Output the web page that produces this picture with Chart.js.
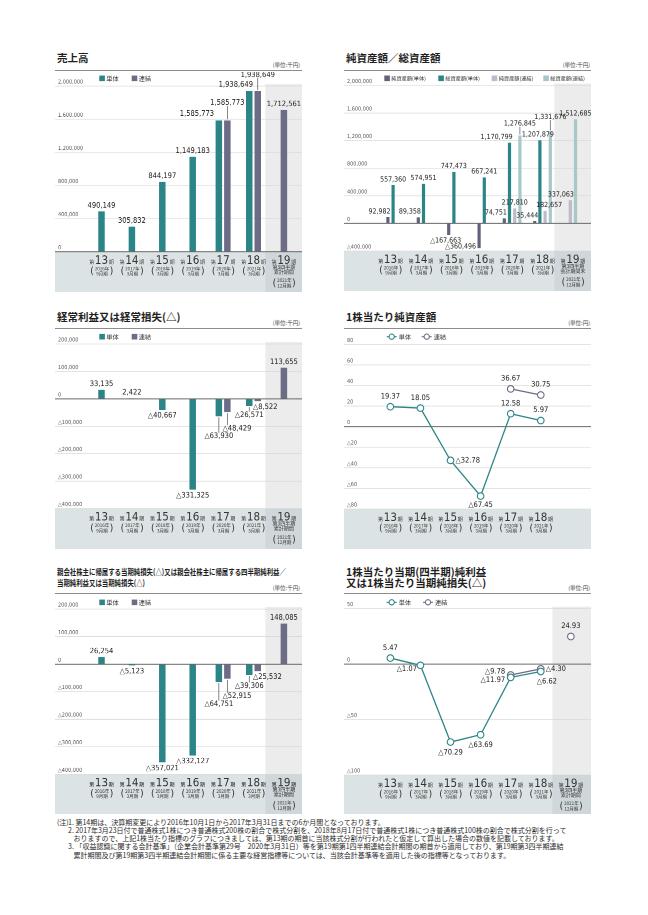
<!DOCTYPE html>
<html><head><meta charset="utf-8">
<script src="https://cdn.jsdelivr.net/npm/chart.js@4.4.0/dist/chart.umd.min.js"></script>
<style>
html,body{margin:0;padding:0;background:#fff;}
body{width:648px;height:915px;position:relative;overflow:hidden;font-family:"Noto Sans CJK JP","Noto Sans",sans-serif;color:#222;}
.title{position:absolute;font-weight:bold;font-size:10.5px;line-height:1;white-space:nowrap;color:#1e1e1e;}
.title.small{font-size:8px;transform:scaleX(0.8);transform-origin:left center;}
.unit{position:absolute;font-size:5.5px;line-height:1;white-space:nowrap;color:#444;}
.rule{position:absolute;height:1.6px;background:#8c8c8c;}
canvas{position:absolute;}
.note{position:absolute;font-size:7px;line-height:1;white-space:nowrap;color:#2a2a2a;}
</style>
</head><body>

<div class="title" style="left:57px;top:52.5px">売上高</div>
<div class="unit" style="right:348px;top:62.5px">(単位:千円)</div>
<div class="rule" style="left:55px;width:247px;top:69.8px"></div>

<div class="title" style="left:346px;top:52.5px">純資産額／総資産額</div>
<div class="unit" style="right:58px;top:62.5px">(単位:千円)</div>
<div class="rule" style="left:344px;width:247px;top:69.8px"></div>

<div class="title" style="left:57px;top:311.5px">経常利益又は経常損失(△)</div>
<div class="unit" style="right:348px;top:320.5px">(単位:千円)</div>
<div class="rule" style="left:55px;width:247px;top:327.5px"></div>

<div class="title" style="left:346px;top:311.5px">1株当たり純資産額</div>
<div class="unit" style="right:58px;top:320.5px">(単位:円)</div>
<div class="rule" style="left:344px;width:247px;top:327.5px"></div>

<div class="title small" style="left:57px;top:567.5px">親会社株主に帰属する当期純損失(△)又は親会社株主に帰属する四半期純利益／</div>
<div class="title small" style="left:57px;top:578.8px">当期純利益又は当期純損失(△)</div>
<div class="unit" style="right:348px;top:585.5px">(単位:千円)</div>
<div class="rule" style="left:55px;width:247px;top:592.5px"></div>

<div class="title" style="left:346px;top:566.5px">1株当たり当期(四半期)純利益</div>
<div class="title" style="left:346px;top:578px">又は1株当たり当期純損失(△)</div>
<div class="unit" style="right:58px;top:585.5px">(単位:円)</div>
<div class="rule" style="left:344px;width:247px;top:592.5px"></div>

<div class="note" style="left:57px;top:818.5px">(注)</div>
<div class="note" style="left:68px;top:818.5px">1. 第14期は、決算期変更により2016年10月1日から2017年3月31日までの6か月間となっております。</div>
<div class="note" style="left:68px;top:826.8px">2. 2017年3月23日付で普通株式1株につき普通株式200株の割合で株式分割を、2018年8月17日付で普通株式1株につき普通株式100株の割合で株式分割を行って</div>
<div class="note" style="left:73.5px;top:835.1px">おりますので、上記1株当たり指標のグラフにつきましては、第13期の期首に当該株式分割が行われたと仮定して算出した場合の数値を記載しております。</div>
<div class="note" style="left:68px;top:843.4px">3. 「収益認識に関する会計基準」（企業会計基準第29号　2020年3月31日）等を第19期第1四半期連結会計期間の期首から適用しており、第19期第3四半期連結</div>
<div class="note" style="left:73.5px;top:851.7px">累計期間及び第19期第3四半期連結会計期間に係る主要な経営指標等については、当該会計基準等を適用した後の指標等となっております。</div>

<script>
// ---------------- data ----------------
const CAT_PERIOD = ['13','14','15','16','17','18','19'];
const CAT_YEAR   = ['2016年','2017年','2018年','2019年','2020年','2021年','2021年'];
const CAT_MONTH  = ['9月期','3月期','3月期','3月期','3月期','3月期','12月期'];
const Q3_CUMULATIVE = ['第3四半期','累計期間'];
const Q3_PERIOD_END = ['第3四半期','会計期間末'];

const salesSingle = [490149, 305832, 844197, 1149183, 1585773, 1938649, null];
const salesConsol = [null, null, null, null, 1585773, 1938649, 1712561];

const netAssetsSingle   = [92982, 89358, -167663, -360496, 74751, 35444, null];
const totalAssetsSingle = [557360, 574951, 747473, 667241, 1170799, 1207879, null];
const netAssetsConsol   = [null, null, null, null, 217810, 182657, 337063];
const totalAssetsConsol = [null, null, null, null, 1276845, 1331676, 1512685];

const ordinarySingle = [33135, 2422, -40667, -331325, -63930, -26571, null];
const ordinaryConsol = [null, null, null, null, -48429, -8522, 113655];

const bpsSingle = [19.37, 18.05, -32.78, -67.45, 12.58, 5.97, null];
const bpsConsol = [null, null, null, null, 36.67, 30.75, null];

const netIncomeSingle = [26254, -5123, -357021, -332127, -64751, -39306, null];
const netIncomeConsol = [null, null, null, null, -52915, -25532, 148085];

const epsSingle = [5.47, -1.07, -70.29, -63.69, -11.97, -6.62, null];
const epsConsol = [null, null, null, null, -9.78, -4.30, 24.93];

const LEGEND_SINGLE = '単体', LEGEND_CONSOL = '連結';
const LEGEND_ASSETS = ['純資産額(単体)','総資産額(単体)','純資産額(連結)','総資産額(連結)'];

// ---------------- style ----------------
const NARROW = '"Liberation Sans Narrow","Arial Narrow","DejaVu Sans Condensed",sans-serif';
const JP = '"Noto Sans CJK JP","Noto Sans",sans-serif';
const TEAL = '#2b8587', SLATE = '#6c6c86', DARKSLATE = '#62627c', LAV = '#bdbacb', LTEAL = '#a7c7c9';
const BAND = '#dce3e5', BAND_DARK = '#cfd7da', SHADE = '#ececec';
const Y_AXIS_W = 31.3, CAT_W = 30.4, PANEL_W = 247;

function fmtInt(v){ const s = Math.abs(v).toLocaleString('en-US'); return v < 0 ? '△' + s : s; }
function fmtDec(v){ const s = Math.abs(v).toFixed(2); return v < 0 ? '△' + s : s; }

function drawXLabels(ctx, chart, o){
  const xs = chart.scales.x, bt = chart.chartArea.bottom;
  const n = o.showLast ? 7 : 6;
  ctx.fillStyle = '#333';
  for (let i = 0; i < n; i++){
    const cx = xs.getPixelForValue(i);
    const small = '5px ' + JP, big = '11.5px ' + NARROW;
    ctx.font = small; const w1 = ctx.measureText('第').width, w3 = ctx.measureText('期').width;
    ctx.font = big; const w2 = ctx.measureText(CAT_PERIOD[i]).width;
    const g = 0.7, x0 = cx - (w1 + w2 + w3 + 2*g)/2, base = bt + 11.8;
    ctx.textAlign = 'left'; ctx.textBaseline = 'alphabetic';
    ctx.font = small; ctx.fillText('第', x0, base);
    ctx.font = big; ctx.fillText(CAT_PERIOD[i], x0 + w1 + g, base);
    ctx.font = small; ctx.fillText('期', x0 + w1 + w2 + 2*g, base);
    ctx.textAlign = 'center'; ctx.textBaseline = 'middle';
    let py = bt + 16.8;
    if (i === 6 && o.extra){
      ctx.font = '5px ' + JP;
      ctx.fillText(o.extra[0], cx, bt + 15.2);
      ctx.fillText(o.extra[1], cx, bt + 20.2);
      py = bt + 28.5;
    }
    ctx.font = '4.5px ' + JP;
    ctx.fillText(CAT_YEAR[i], cx + 0.5, py);
    ctx.fillText(CAT_MONTH[i], cx + 0.5, py + 5.2);
    ctx.font = '10px ' + NARROW;
    ctx.fillText('(', cx - 9.5, py + 2.8);
    ctx.fillText(')', cx + 10, py + 2.8);
  }
}

const panelPlugin = {
  id: 'panel',
  beforeDatasetsDraw(chart){
    const o = chart.options.plugins.panel; if (!o) return;
    const ctx = chart.ctx, ca = chart.chartArea, W = chart.width, H = chart.height;
    const xs = chart.scales.x, ys = chart.scales.y;
    ctx.save();
    ctx.fillStyle = BAND; ctx.fillRect(0, ca.bottom, W, H - ca.bottom);
    if (o.shadeLast){
      const sx = xs.getPixelForValue(6) - 18.5;
      ctx.fillStyle = SHADE; ctx.fillRect(sx, ca.top - 2, W - sx, ca.bottom - ca.top + 2);
      ctx.fillStyle = BAND_DARK; ctx.fillRect(sx, ca.bottom, W - sx, H - ca.bottom);
    }
    ys.ticks.forEach(t => {
      const py = ys.getPixelForValue(t.value);
      if (t.value !== 0){
        ctx.strokeStyle = '#d4d4d4'; ctx.lineWidth = 0.6;
        ctx.beginPath(); ctx.moveTo(0, py); ctx.lineTo(W, py); ctx.stroke();
      }
      ctx.fillStyle = '#555'; ctx.font = '5.5px ' + NARROW;
      ctx.textAlign = 'left'; ctx.textBaseline = 'bottom';
      ctx.fillText(fmtInt(t.value), 3, py - 1.2);
    });
    if (!o.zeroOnTop) drawZero(ctx, chart);
    drawXLabels(ctx, chart, o);
    ctx.restore();
  },
  afterDatasetsDraw(chart){
    const o = chart.options.plugins.panel; if (!o) return;
    const ctx = chart.ctx;
    ctx.save();
    if (o.zeroOnTop) drawZero(ctx, chart);
    drawValueLabels(ctx, chart, o);
    drawLegend(ctx, chart, o);
    ctx.restore();
  }
};

function drawZero(ctx, chart){
  const py = chart.scales.y.getPixelForValue(0);
  ctx.strokeStyle = '#6a6a6a'; ctx.lineWidth = 1;
  ctx.beginPath(); ctx.moveTo(0, py); ctx.lineTo(chart.width, py); ctx.stroke();
}

function drawValueLabels(ctx, chart, o){
  const fmt = o.decimal ? fmtDec : fmtInt;
  ctx.font = (o.labelSize || 7.5) + 'px ' + NARROW;
  chart.data.datasets.forEach((ds, d) => {
    const meta = chart.getDatasetMeta(d);
    meta.data.forEach((el, i) => {
      const v = ds.data[i];
      if (v === null || v === undefined) return;
      const ov = (o.over && o.over[d + '-' + i]) || {};
      const isBar = meta.type === 'bar';
      const hw = isBar ? el.width/2 - 1 : 0;
      const top = isBar ? Math.min(el.y, el.base) : el.y - 4.5;
      const bot = isBar ? Math.max(el.y, el.base) : el.y + 4.5;
      const pos = v >= 0;
      const x = el.x + (ov.ax || 0) * hw + (ov.dx || 0);
      let y, baseline;
      if (ov.mid){ baseline = 'middle'; y = (isBar ? (pos ? top : bot) : el.y) + (ov.dy || 0); }
      else if (pos){ baseline = 'bottom'; y = top - 2 + (ov.dy || 0); }
      else { baseline = 'top'; y = bot + 2 + (ov.dy || 0); }
      if (ov.line){
        ctx.strokeStyle = '#555'; ctx.lineWidth = 0.7;
        ctx.beginPath();
        if (pos){ ctx.moveTo(el.x, top - 1); ctx.lineTo(el.x, y - 0.5); }
        else { ctx.moveTo(el.x, bot + 1); ctx.lineTo(el.x, y + 0.5); }
        ctx.stroke();
      }
      ctx.fillStyle = '#222';
      ctx.textAlign = ov.align || 'center'; ctx.textBaseline = baseline;
      ctx.fillText(fmt(v), x, y);
    });
  });
}

function drawLegend(ctx, chart, o){
  const lg = o.legend; if (!lg) return;
  ctx.font = lg.size + 'px ' + JP;
  ctx.textBaseline = 'middle'; ctx.textAlign = 'left';
  chart.data.datasets.forEach((ds, d) => {
    const x = lg.xs[d], y = lg.y;
    if (lg.line){
      ctx.strokeStyle = ds.borderColor; ctx.lineWidth = 1.1;
      ctx.beginPath(); ctx.moveTo(x, y); ctx.lineTo(x + 10, y); ctx.stroke();
      ctx.fillStyle = '#fff';
      ctx.beginPath(); ctx.arc(x + 5, y, 2.6, 0, Math.PI*2); ctx.fill(); ctx.stroke();
      ctx.fillStyle = '#333'; ctx.fillText(ds.label, x + 12, y + 0.3);
    } else {
      ctx.fillStyle = ds.backgroundColor; ctx.fillRect(x, y - 2.8, 5.6, 5.6);
      ctx.fillStyle = '#333'; ctx.fillText(ds.label, x + 7, y + 0.3);
    }
  });
}

function makeChart(cfg){
  const H = cfg.bandBottom - cfg.top;
  const cv = document.createElement('canvas');
  cv.width = PANEL_W; cv.height = H;
  cv.style.left = cfg.L + 'px'; cv.style.top = cfg.top + 'px';
  cv.style.width = PANEL_W + 'px'; cv.style.height = H + 'px';
  document.body.appendChild(cv);
  const panel = Object.assign({}, cfg.panel);
  if (panel.legend) panel.legend = Object.assign({}, panel.legend, { y: panel.legend.y - cfg.top, xs: panel.legend.xs.map(v => v - cfg.L) });
  return new Chart(cv, {
    type: cfg.type,
    data: { labels: CAT_PERIOD, datasets: cfg.datasets },
    options: {
      responsive: false, animation: false, devicePixelRatio: 2,
      layout: { padding: { top: cfg.plotTop - cfg.top, right: PANEL_W - Y_AXIS_W - 7*CAT_W, left: 0, bottom: 0 } },
      plugins: { legend: { display: false }, tooltip: { enabled: false }, title: { display: false }, panel: panel },
      scales: {
        x: { type: 'category', offset: true, grid: { display: false }, ticks: { display: false }, border: { display: false },
             afterFit(s){ s.height = cfg.bandBottom - cfg.plotBottom; } },
        y: { min: cfg.yMin, max: cfg.yMax, ticks: { display: false, stepSize: cfg.yStep }, grid: { display: false }, border: { display: false },
             afterFit(s){ s.width = Y_AXIS_W; } }
      },
      datasets: {
        bar: { skipNull: true, barThickness: cfg.barThickness, borderWidth: { left: 1, right: 1, top: 0, bottom: 0 },
               borderColor: 'rgba(0,0,0,0)', borderSkipped: false, inflateAmount: 0 },
        line: { tension: 0, spanGaps: false, borderWidth: 1.3, pointRadius: 3.3, pointBorderWidth: 1.1, pointBackgroundColor: '#fff' }
      }
    },
    plugins: [panelPlugin]
  });
}

function barDs(label, data, color){ return { label, data, backgroundColor: color }; }
function lineDs(label, data, color, extra){ return Object.assign({ label, data, borderColor: color, backgroundColor: color, pointBorderColor: color }, extra || {}); }

// 売上高
makeChart({
  type: 'bar', L: 55, top: 72, plotTop: 86, plotBottom: 251.5, bandBottom: 291.5,
  yMin: 0, yMax: 2000000, yStep: 400000, barThickness: 8.5,
  datasets: [barDs(LEGEND_SINGLE, salesSingle, TEAL), barDs(LEGEND_CONSOL, salesConsol, SLATE)],
  panel: { shadeLast: true, showLast: true, extra: Q3_CUMULATIVE, zeroOnTop: true,
    legend: { y: 78.3, xs: [99.3, 131.7], size: 6.2 },
    over: { '0-4': { ax: -1, align: 'right', dx: -1.5, dy: -1 }, '1-4': { line: true, dy: -12 },
            '0-5': { ax: 1, align: 'right', dx: 0.5, dy: -1 }, '1-5': { line: true, dy: -10.5 } } }
});

// 純資産額／総資産額
makeChart({
  type: 'bar', L: 344, top: 72, plotTop: 85.5, plotBottom: 251, bandBottom: 291,
  yMin: -400000, yMax: 2000000, yStep: 400000, barThickness: 5.2,
  datasets: [barDs(LEGEND_ASSETS[0], netAssetsSingle, DARKSLATE), barDs(LEGEND_ASSETS[1], totalAssetsSingle, TEAL),
             barDs(LEGEND_ASSETS[2], netAssetsConsol, LAV), barDs(LEGEND_ASSETS[3], totalAssetsConsol, LTEAL)],
  panel: { shadeLast: true, showLast: true, extra: Q3_PERIOD_END, zeroOnTop: true, labelSize: 7,
    legend: { y: 78.3, xs: [384.3, 438.3, 491.7, 543.3], size: 5.2 },
    over: { '0-0': { ax: 1, align: 'right', dx: 1 }, '0-1': { ax: 1, align: 'right', dx: 1 },
            '0-2': { dx: -3 }, '0-3': { ax: -1, align: 'right', dx: -1.5, mid: true, dy: -1.5 },
            '0-4': { ax: 1, align: 'right', dx: 1 }, '0-5': { ax: 1, align: 'right', dx: 2 },
            '1-4': { ax: 1, align: 'right', dx: 1.5 }, '1-5': { dx: -2 },
            '3-4': { line: true, dy: -6 }, '3-5': { line: true, dy: -9 },
            '2-5': { dx: 4 }, '2-6': { ax: 1, align: 'right', dx: 2 } } }
});

// 経常利益又は経常損失
makeChart({
  type: 'bar', L: 55, top: 330, plotTop: 344, plotBottom: 508.6, bandBottom: 549,
  yMin: -400000, yMax: 200000, yStep: 100000, barThickness: 8.5,
  datasets: [barDs(LEGEND_SINGLE, ordinarySingle, TEAL), barDs(LEGEND_CONSOL, ordinaryConsol, SLATE)],
  panel: { shadeLast: true, showLast: true, extra: Q3_CUMULATIVE, zeroOnTop: true,
    legend: { y: 336.7, xs: [99.3, 131.7], size: 6.2 },
    over: { '0-4': { line: true, dy: 14 }, '1-4': { ax: -1, align: 'left', dx: -1.5, line: true, dy: 10.5 },
            '0-5': { line: true, dy: 3 }, '1-5': { ax: -1, align: 'left', dx: -1.5 } } }
});

// 1株当たり純資産額
makeChart({
  type: 'line', L: 344, top: 330, plotTop: 344.3, plotBottom: 509, bandBottom: 549,
  yMin: -80, yMax: 80, yStep: 20,
  datasets: [lineDs(LEGEND_SINGLE, bpsSingle, TEAL), lineDs(LEGEND_CONSOL, bpsConsol, SLATE)],
  panel: { shadeLast: false, showLast: false, decimal: true,
    legend: { y: 336.7, xs: [386.7, 421.7], size: 6.2, line: true },
    over: { '0-2': { mid: true, align: 'left', dx: 5 }, '0-3': { dy: -1.5 } } }
});

// 親会社株主に帰属する当期純損益
makeChart({
  type: 'bar', L: 55, top: 595, plotTop: 609, plotBottom: 774, bandBottom: 813.5,
  yMin: -400000, yMax: 200000, yStep: 100000, barThickness: 8.5,
  datasets: [barDs(LEGEND_SINGLE, netIncomeSingle, TEAL), barDs(LEGEND_CONSOL, netIncomeConsol, SLATE)],
  panel: { shadeLast: true, showLast: true, extra: Q3_CUMULATIVE, zeroOnTop: true,
    legend: { y: 602.3, xs: [99.3, 131.7], size: 6.2 },
    over: { '0-4': { line: true, dy: 16 }, '1-4': { ax: -1, align: 'left', dx: -1.5, line: true, dy: 11.5 },
            '0-5': { line: true, dy: 5 }, '1-5': { ax: -1, align: 'left', dx: -1.5 } } }
});

// 1株当たり当期純利益
makeChart({
  type: 'line', L: 344, top: 595, plotTop: 608.7, plotBottom: 775, bandBottom: 814,
  yMin: -100, yMax: 50, yStep: 50,
  datasets: [lineDs(LEGEND_SINGLE, epsSingle, TEAL),
             lineDs(LEGEND_CONSOL, epsConsol, SLATE, { segment: { borderColor: c => (c.p1DataIndex === 6 ? 'rgba(0,0,0,0)' : undefined) } })],
  panel: { shadeLast: true, showLast: true, extra: Q3_CUMULATIVE, decimal: true,
    legend: { y: 602.3, xs: [386.7, 423], size: 6.2, line: true },
    over: { '0-1': { align: 'right', dx: -3.5, mid: true, dy: 3.5 },
            '1-4': { align: 'right', dx: -5.5, mid: true, dy: -3.5 },
            '0-4': { align: 'right', dx: -5.5, mid: true, dy: 2.5 },
            '1-5': { align: 'left', dx: 5, mid: true },
            '0-5': { align: 'left', dx: -4 } } }
});
</script>
</body></html>
